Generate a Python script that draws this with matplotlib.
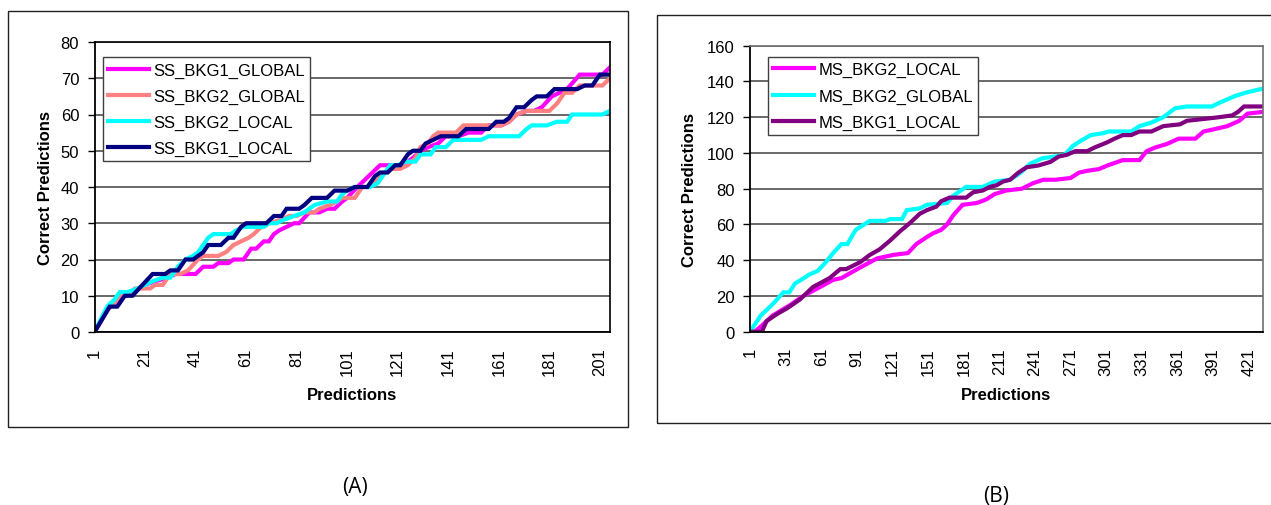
import matplotlib
matplotlib.use('Agg')
import matplotlib.pyplot as plt
from matplotlib.patches import Rectangle

plt.rcParams['font.family'] = ['Liberation Sans', 'DejaVu Sans']

# ---- panel A data (prediction index, cumulative correct) ----
a_ticks = [1, 21, 41, 61, 81, 101, 121, 141, 161, 181, 201]
a_yticks = [0, 10, 20, 30, 40, 50, 60, 70, 80]

ss_bkg1_global_x = [1, 7, 9, 12, 16, 21, 25, 30, 33, 41, 44, 48, 50, 54, 56, 60, 63, 65, 68, 70,
                    72, 74, 77, 80, 82, 86, 90, 93, 96, 99, 101, 105, 108, 111, 114, 123, 127, 130, 133, 137,
                    140, 145, 149, 154, 157, 162, 165, 168, 172, 175, 178, 182, 185, 188, 193, 202, 205]
ss_bkg1_global_y = [0, 7, 8, 10, 11, 13, 14, 15, 16, 16, 18, 18, 19, 19, 20, 20, 23, 23, 25, 25,
                    27, 28, 29, 30, 30, 33, 33, 34, 34, 36, 37, 40, 42, 44, 46, 46, 48, 50, 51, 52,
                    54, 54, 55, 55, 57, 57, 58, 60, 61, 61, 62, 65, 66, 67, 71, 71, 73]

ss_bkg2_global_x = [1, 6, 9, 11, 14, 17, 23, 25, 28, 31, 35, 38, 42, 44, 50, 53, 56, 59, 62, 64,
                    67, 70, 75, 78, 81, 84, 88, 90, 94, 97, 99, 104, 107, 110, 113, 116, 118, 122, 125, 128,
                    130, 133, 135, 137, 144, 147, 162, 165, 168, 172, 181, 184, 187, 190, 193, 202, 205]
ss_bkg2_global_y = [0, 6, 8, 10, 10, 12, 12, 13, 13, 16, 16, 17, 20, 21, 21, 22, 24, 25, 26, 27,
                    29, 30, 31, 32, 32, 33, 33, 34, 35, 36, 37, 37, 40, 40, 42, 44, 45, 45, 46, 48,
                    51, 52, 54, 55, 55, 57, 57, 58, 60, 61, 61, 63, 66, 66, 68, 68, 70]

ss_bkg2_local_x = [1, 6, 9, 11, 14, 18, 21, 24, 28, 31, 34, 37, 40, 42, 46, 48, 55, 57, 60, 68,
                   70, 73, 76, 80, 84, 88, 93, 97, 99, 101, 104, 110, 113, 116, 118, 121, 124, 128, 130, 134,
                   136, 140, 143, 154, 157, 169, 172, 174, 180, 184, 188, 190, 202, 205]
ss_bkg2_local_y = [0, 7, 9, 11, 11, 12, 13, 14, 15, 15, 18, 20, 21, 22, 26, 27, 27, 28, 29, 29,
                   30, 30, 31, 32, 33, 35, 36, 36, 38, 39, 40, 40, 41, 44, 46, 46, 47, 47, 49, 49,
                   51, 51, 53, 53, 54, 54, 56, 57, 57, 58, 58, 60, 60, 61]

ss_bkg1_local_x = [1, 7, 10, 13, 16, 20, 24, 29, 31, 34, 37, 40, 42, 44, 46, 51, 54, 56, 59, 61,
                   69, 72, 75, 77, 82, 84, 87, 93, 96, 101, 104, 109, 112, 114, 117, 120, 122, 125, 127, 130,
                   132, 135, 138, 145, 148, 157, 160, 163, 165, 168, 171, 174, 176, 180, 183, 192, 195, 198, 201, 205]
ss_bkg1_local_y = [0, 7, 7, 10, 10, 13, 16, 16, 17, 17, 20, 20, 21, 22, 24, 24, 26, 26, 29, 30,
                   30, 32, 32, 34, 34, 35, 37, 37, 39, 39, 40, 40, 43, 44, 44, 46, 46, 49, 50, 50,
                   52, 53, 54, 54, 56, 56, 58, 58, 59, 62, 62, 64, 65, 65, 67, 67, 68, 68, 71, 71]

# ---- panel B data ----
b_ticks = [1, 31, 61, 91, 121, 151, 181, 211, 241, 271, 301, 331, 361, 391, 421]
b_yticks = [0, 20, 40, 60, 80, 100, 120, 140, 160]

ms_bkg2_local_x = [1, 5, 12, 20, 35, 46, 60, 71, 78, 94, 108, 122, 134, 141, 150, 155, 162, 167, 172, 180,
                   192, 200, 207, 217, 230, 239, 248, 258, 271, 278, 285, 295, 302, 315, 329, 335, 342, 352, 362, 376,
                   383, 390, 403, 413, 420, 433]
ms_bkg2_local_y = [0, 0, 4, 9, 15, 20, 25, 29, 30, 36, 41, 43, 44, 49, 53, 55, 57, 60, 65, 71,
                   72, 74, 77, 79, 80, 83, 85, 85, 86, 89, 90, 91, 93, 96, 96, 101, 103, 105, 108, 108,
                   112, 113, 115, 118, 122, 123]

ms_bkg2_global_x = [1, 10, 21, 29, 34, 39, 44, 51, 58, 65, 71, 78, 83, 90, 97, 102, 115, 119, 129, 133,
                    144, 150, 167, 172, 183, 197, 207, 220, 229, 237, 247, 258, 266, 273, 280, 288, 298, 303, 322, 329,
                    339, 349, 359, 369, 390, 396, 403, 410, 420, 433]
ms_bkg2_global_y = [0, 9, 16, 22, 22, 27, 29, 32, 34, 39, 44, 49, 49, 57, 60, 62, 62, 63, 63, 68,
                    69, 71, 72, 76, 81, 81, 84, 85, 89, 94, 97, 98, 99, 104, 107, 110, 111, 112, 112, 115,
                    117, 120, 125, 126, 126, 128, 130, 132, 134, 136]

ms_bkg1_local_x = [1, 11, 15, 24, 32, 43, 54, 68, 77, 82, 94, 102, 110, 119, 127, 136, 144, 150, 158, 162,
                   169, 183, 189, 197, 203, 209, 214, 220, 227, 234, 244, 254, 261, 268, 275, 285, 291, 302, 308, 315,
                   322, 329, 339, 349, 363, 369, 383, 396, 407, 412, 417, 433]
ms_bkg1_local_y = [0, 0, 6, 10, 13, 18, 25, 30, 35, 35, 39, 43, 46, 51, 56, 61, 66, 68, 70, 73,
                   75, 75, 78, 79, 81, 82, 84, 85, 89, 92, 93, 95, 98, 99, 101, 101, 103, 106, 108, 110,
                   110, 112, 112, 115, 116, 118, 119, 120, 121, 123, 126, 126]


# Excel-ish line chart panel
def draw_panel(ax, series, xmax, xticks, yticks, leg_anchor, spine_col):
    for xs, ys, label, col in series:
        ax.plot(xs, ys, color=col, lw=3, label=label, solid_joinstyle='miter')
    ax.set_xlim(1, xmax)
    ax.set_ylim(yticks[0], yticks[-1])
    ax.set_xticks(xticks)
    ax.set_xticklabels([str(t) for t in xticks], rotation=90)
    ax.set_yticks(yticks)
    ax.tick_params(axis='x', length=0, pad=11, labelsize=12)
    ax.tick_params(axis='y', length=5, width=1, pad=6, labelsize=12, direction='out')
    ax.yaxis.grid(True, color='#404040', lw=1.1)
    ax.set_axisbelow(True)
    for s in ['left', 'bottom']:
        ax.spines[s].set_color('black')
        ax.spines[s].set_linewidth(1.3)
    for s in ['top', 'right']:
        ax.spines[s].set_color(spine_col)
        ax.spines[s].set_linewidth(1.2)
    ax.set_xlabel('Predictions', fontsize=12, fontweight='bold')
    ax.set_ylabel('Correct Predictions', fontsize=12, fontweight='bold', va='center')
    leg = ax.legend(loc='upper left', bbox_to_anchor=leg_anchor, borderaxespad=0,
                    fancybox=False, edgecolor='#404040', framealpha=1, fontsize=12,
                    handlelength=2.45, handletextpad=0.25, labelspacing=0.66, borderpad=0.32)
    leg.get_frame().set_linewidth(1.0)


fig = plt.figure(figsize=(12.71, 5.06), dpi=100)

# outer chart frames
fig.patches.append(Rectangle((8 / 1271, 78 / 506), 620 / 1271, 416 / 506, transform=fig.transFigure,
                             fill=False, edgecolor='#202020', lw=1))
fig.patches.append(Rectangle((657 / 1271, 82 / 506), 620 / 1271, 408 / 506, transform=fig.transFigure,
                             fill=False, edgecolor='#202020', lw=1))

ax1 = fig.add_axes([94.5 / 1271, 173 / 506, 515.5 / 1271, 290 / 506])
draw_panel(ax1, [
    (ss_bkg1_global_x, ss_bkg1_global_y, 'SS_BKG1_GLOBAL', '#FF00FF'),
    (ss_bkg2_global_x, ss_bkg2_global_y, 'SS_BKG2_GLOBAL', '#FF8080'),
    (ss_bkg2_local_x, ss_bkg2_local_y, 'SS_BKG2_LOCAL', '#00FFFF'),
    (ss_bkg1_local_x, ss_bkg1_local_y, 'SS_BKG1_LOCAL', '#000080'),
], 205, a_ticks, a_yticks, (0.0165, 0.948), 'black')
ax1.yaxis.set_label_coords(-0.096, 0.5)
ax1.xaxis.set_label_coords(0.5, -0.19)

ax2 = fig.add_axes([750 / 1271, 173.3 / 506, 513 / 1271, 286 / 506])
draw_panel(ax2, [
    (ms_bkg2_local_x, ms_bkg2_local_y, 'MS_BKG2_LOCAL', '#FF00FF'),
    (ms_bkg2_global_x, ms_bkg2_global_y, 'MS_BKG2_GLOBAL', '#00FFFF'),
    (ms_bkg1_local_x, ms_bkg1_local_y, 'MS_BKG1_LOCAL', '#800080'),
], 433, b_ticks, b_yticks, (0.035, 0.9605), '#707070')
ax2.yaxis.set_label_coords(-0.117, 0.5)
ax2.xaxis.set_label_coords(0.5, -0.195)

# captions
fig.text(355 / 1271, 1 - 488 / 506, '(A)', ha='center', va='center', fontsize=15,
         family=['Open Sans', 'DejaVu Sans'])
fig.text(996 / 1271, 1 - 497 / 506, '(B)', ha='center', va='center', fontsize=15,
         family=['Open Sans', 'DejaVu Sans'])

plt.savefig('out.png', dpi=100)
